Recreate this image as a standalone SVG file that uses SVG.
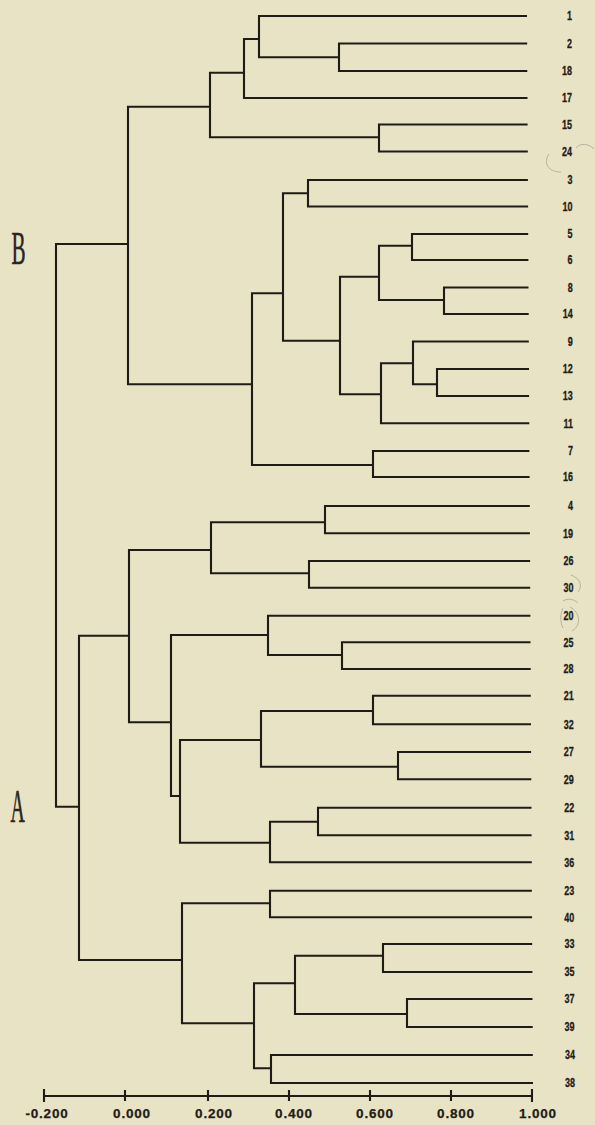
<svg xmlns="http://www.w3.org/2000/svg" width="595" height="1125" viewBox="0 0 595 1125">
  <style>
    .bg { fill: #e9e3c5; }
    .ln { fill: none; stroke: #1f1b17; stroke-width: 2.1; stroke-linejoin: miter; }
    .leaf text { font-family: "Liberation Sans", Arial, sans-serif; font-weight: bold; font-size: 12.5px; fill: #1f1b17; stroke: #1f1b17; stroke-width: 0.3; text-anchor: end; }
    .ax { font-family: "Liberation Sans", Arial, sans-serif; font-weight: bold; font-size: 13.5px; fill: #1f1b17; stroke: #1f1b17; stroke-width: 0.25; text-anchor: middle; letter-spacing: 0.8px; }
    .grp { font-family: "Liberation Serif", "Times New Roman", serif; font-size: 47px; fill: #2a2520; stroke: #2a2520; stroke-width: 0.6; }
    .pencil { fill: none; stroke: #8f8b80; stroke-width: 1; opacity: 0.55; }
  </style>

  <rect class="bg" x="0" y="0" width="595" height="1125"/>

  <!-- tree branches: each path is one bracket joining two children -->
  <g id="connectors" class="ln">
    <!-- cluster B -->
    <path d="M527.2 43.5 H339 V71 H527.3"/>
    <path d="M527 16 H259 V57.3 H339"/>
    <path d="M259 39 H244 V98 H527.5"/>
    <path d="M527.6 124.5 H379 V151.5 H527.8"/>
    <path d="M244 72.7 H210 V137.3 H379"/>
    <path d="M527.9 180 H308 V206.5 H528.1"/>
    <path d="M528.2 234 H412 V260 H528.4"/>
    <path d="M528.5 287.5 H444 V314 H528.7"/>
    <path d="M412 245.7 H379 V300 H444"/>
    <path d="M529 369 H437 V396 H529.1"/>
    <path d="M528.8 341.5 H413 V384.3 H437"/>
    <path d="M413 363.3 H381 V423.3 H529.3"/>
    <path d="M379 276.7 H340 V394.3 H381"/>
    <path d="M308 193.3 H283 V340.7 H340"/>
    <path d="M529.4 451 H373 V477 H529.6"/>
    <path d="M283 293.3 H252 V465 H373"/>
    <path d="M210 106.7 H128 V384.3 H252"/>
    <!-- root -->
    <path d="M128 244 H56 V806.7 H79"/>
    <!-- cluster A -->
    <path d="M529.8 506 H325 V533.3 H529.9"/>
    <path d="M530.1 561 H309 V587.7 H530.2"/>
    <path d="M325 522.3 H211 V573.3 H309"/>
    <path d="M530.5 642.3 H342 V669 H530.7"/>
    <path d="M530.4 615.7 H268 V655 H342"/>
    <path d="M530.8 695.7 H373 V724.3 H531"/>
    <path d="M531.1 752 H398 V779.3 H531.3"/>
    <path d="M373 711 H261 V766.7 H398"/>
    <path d="M531.5 807.7 H318 V835.3 H531.6"/>
    <path d="M318 821.7 H270 V862.3 H531.8"/>
    <path d="M261 740 H180 V842.7 H270"/>
    <path d="M268 635 H171 V796 H180"/>
    <path d="M211 550 H129 V722.3 H171"/>
    <path d="M531.9 890.7 H270 V917.3 H532.1"/>
    <path d="M532.2 944 H383 V972 H532.4"/>
    <path d="M532.5 999 H407 V1027 H532.7"/>
    <path d="M383 955.7 H295 V1014 H407"/>
    <path d="M532.8 1055 H271 V1083 H533"/>
    <path d="M295 983.3 H254 V1068.3 H271"/>
    <path d="M270 903.3 H182 V1023.3 H254"/>
    <path d="M129 635.7 H79 V960 H182"/>
  </g>

  <!-- leaf labels (condensed) -->
  <g class="leaf" transform="scale(0.72,1)">
    <g id="leaf-1"><text x="794.5" y="20.5">1</text></g>
    <g id="leaf-2"><text x="794.5" y="48">2</text></g>
    <g id="leaf-18"><text x="794.5" y="75.5">18</text></g>
    <g id="leaf-17"><text x="794.5" y="102.5">17</text></g>
    <g id="leaf-15"><text x="794.5" y="129">15</text></g>
    <g id="leaf-24"><text x="794.5" y="156">24</text></g>
    <g id="leaf-3"><text x="795" y="184.5">3</text></g>
    <g id="leaf-10"><text x="795" y="211">10</text></g>
    <g id="leaf-5"><text x="795" y="238.5">5</text></g>
    <g id="leaf-6"><text x="795" y="264.5">6</text></g>
    <g id="leaf-8"><text x="795.5" y="292">8</text></g>
    <g id="leaf-14"><text x="795.5" y="318.5">14</text></g>
    <g id="leaf-9"><text x="795.5" y="346">9</text></g>
    <g id="leaf-12"><text x="795.5" y="373.5">12</text></g>
    <g id="leaf-13"><text x="795.5" y="400.5">13</text></g>
    <g id="leaf-11"><text x="796" y="427.8">11</text></g>
    <g id="leaf-7"><text x="796" y="455.5">7</text></g>
    <g id="leaf-16"><text x="796" y="481.5">16</text></g>
    <g id="leaf-4"><text x="796" y="510.5">4</text></g>
    <g id="leaf-19"><text x="796" y="537.8">19</text></g>
    <g id="leaf-26"><text x="796.5" y="565.5">26</text></g>
    <g id="leaf-30"><text x="796.5" y="592.2">30</text></g>
    <g id="leaf-20"><text x="796.5" y="620.2">20</text></g>
    <g id="leaf-25"><text x="796.5" y="646.8">25</text></g>
    <g id="leaf-28"><text x="796.5" y="673.5">28</text></g>
    <g id="leaf-21"><text x="797" y="700.2">21</text></g>
    <g id="leaf-32"><text x="797" y="728.8">32</text></g>
    <g id="leaf-27"><text x="797" y="756.5">27</text></g>
    <g id="leaf-29"><text x="797" y="783.8">29</text></g>
    <g id="leaf-22"><text x="797.5" y="812.2">22</text></g>
    <g id="leaf-31"><text x="797.5" y="839.8">31</text></g>
    <g id="leaf-36"><text x="797.5" y="866.8">36</text></g>
    <g id="leaf-23"><text x="797.5" y="895.2">23</text></g>
    <g id="leaf-40"><text x="797.5" y="921.8">40</text></g>
    <g id="leaf-33"><text x="798" y="948.5">33</text></g>
    <g id="leaf-35"><text x="798" y="976.5">35</text></g>
    <g id="leaf-37"><text x="798" y="1003.5">37</text></g>
    <g id="leaf-39"><text x="798" y="1031.5">39</text></g>
    <g id="leaf-34"><text x="798.5" y="1059.5">34</text></g>
    <g id="leaf-38"><text x="798.5" y="1087.5">38</text></g>
  </g>

  <!-- cluster letters -->
  <g id="cluster-B"><text class="grp" transform="translate(11.5,264) scale(0.45,1)">B</text></g>
  <g id="cluster-A"><text class="grp" transform="translate(10.5,822) scale(0.42,1)">A</text></g>

  <!-- similarity scale -->
  <g id="axis">
    <path class="ln" d="M44 1096 H532"/>
    <path class="ln" d="M44 1089 V1102 M532 1089 V1102 M125 1090 V1101 M208 1090 V1101 M289 1090 V1101 M370 1090 V1101 M451 1090 V1101"/>
    <text class="ax" x="47" y="1118">-0.200</text>
    <text class="ax" x="132" y="1118">0.000</text>
    <text class="ax" x="214" y="1118">0.200</text>
    <text class="ax" x="294" y="1118">0.400</text>
    <text class="ax" x="375" y="1118">0.600</text>
    <text class="ax" x="456" y="1118">0.800</text>
    <text class="ax" x="538" y="1118">1.000</text>
  </g>

  <!-- faint pencil marks beside labels -->
  <g id="pencil-marks" class="pencil">
    <path d="M594 149 C588 143, 580 143, 576 148"/>
    <path d="M549 154 C543 163, 548 172, 561 172"/>
    <path d="M571 575 C580 578, 583 586, 578 592"/>
    <path d="M563 601 C568 598, 574 599, 578 603"/>
    <path d="M570 607 C580 612, 582 625, 572 631"/>
    <path d="M563 608 C560 614, 560 622, 563 628"/>
  </g>
</svg>
